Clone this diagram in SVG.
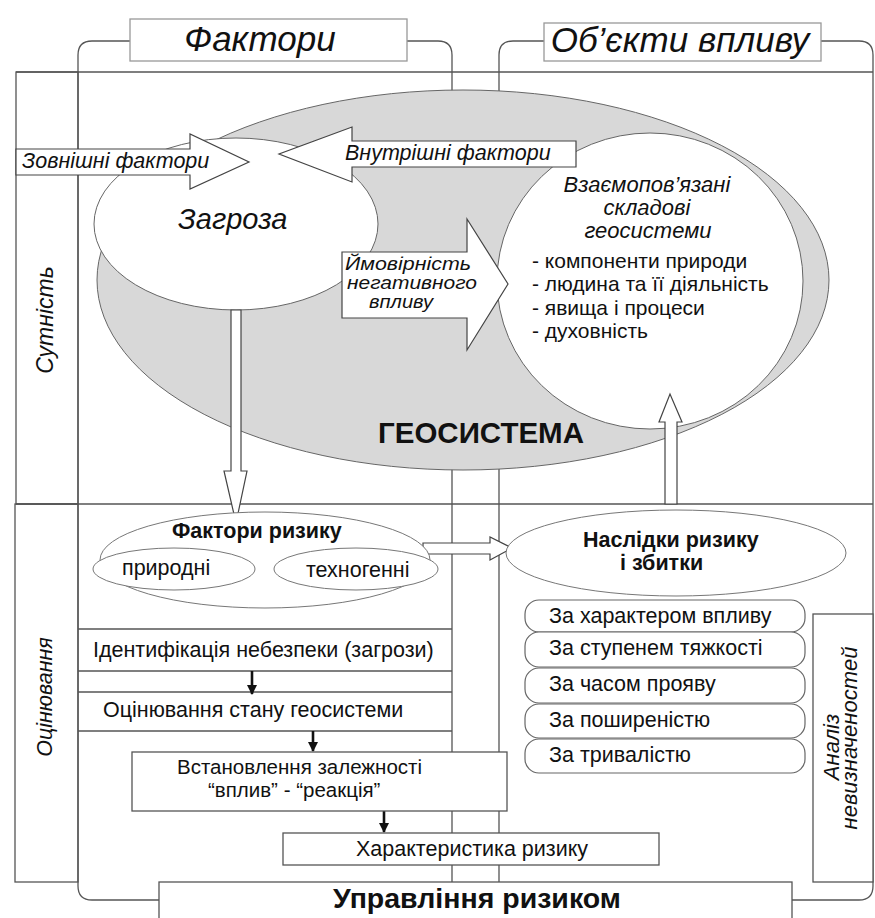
<svg xmlns="http://www.w3.org/2000/svg" width="875" height="918" viewBox="0 0 875 918">
<defs>
<style>
.ln{fill:none;stroke:#555;stroke-width:1.3}
.bx{fill:#fff;stroke:#555;stroke-width:1.3}
.tb{fill:#fff;stroke:#999;stroke-width:1.3}
.ba{fill:#fff;stroke:#444;stroke-width:1.2}
.pill{fill:#fff;stroke:#666;stroke-width:1.2}
.t{font-family:"Liberation Sans",Arial,sans-serif;fill:#111}
.it{font-style:italic}
.b{font-weight:bold}
.k{stroke:#111;stroke-width:2.6;fill:none}
</style>
<marker id="ah" viewBox="0 0 10 10" refX="9" refY="5" markerWidth="4" markerHeight="4" orient="auto" markerUnits="strokeWidth">
<path d="M0,0 L10,5 L0,10 z" fill="#111"/>
</marker>
</defs>
<rect width="875" height="918" fill="#fff"/>

<g id="frame">
<path class="ln" d="M16,72 H873"/>
<rect class="ln" x="16" y="72" width="62" height="432"/>
<path class="ln" d="M16,504 H873"/>
<rect class="ln" x="15" y="504" width="63" height="378"/>
<path class="ln" d="M130,41 H92 Q78,41 78,55 V886 Q78,900 92,900 H159"/>
<path class="ln" d="M407,41 H438 Q452,41 452,55 V882"/>
<path class="ln" d="M544,41 H513 Q499,41 499,55 V882"/>
<path class="ln" d="M821,41 H859 Q873,41 873,55 V886 Q873,900 859,900 H792"/>
<path class="ln" d="M78,629 H452 M78,671 H452 M78,692 H452 M78,731 H452"/>
</g>

<g id="title-factors">
<rect class="tb" x="130" y="19" width="277" height="42"/>
<text class="t it" x="260" y="51" font-size="35" text-anchor="middle">Фактори</text>
</g>
<g id="title-objects">
<rect class="tb" x="544" y="23" width="277" height="38"/>
<text class="t it" x="680" y="52" font-size="35" text-anchor="middle">Об’єкти впливу</text>
</g>

<g id="label-sutnist">
<text class="t it" transform="translate(53,320) rotate(-90)" font-size="23" text-anchor="middle">Сутність</text>
</g>
<g id="label-otsinyuvannya">
<text class="t it" transform="translate(52,697) rotate(-90)" font-size="21.5" text-anchor="middle">Оцінювання</text>
</g>

<g id="geosystem">
<ellipse cx="463" cy="280" rx="366" ry="190" fill="#d8d8d8" stroke="#666" stroke-width="1"/>
<text class="t b" x="378" y="443" font-size="29.5">ГЕОСИСТЕМА</text>
</g>

<g id="zagroza">
<ellipse cx="236" cy="224" rx="142" ry="86" fill="#fff" stroke="#666" stroke-width="1"/>
<text class="t it" x="178" y="229" font-size="29">Загроза</text>
</g>

<g id="components">
<ellipse cx="650" cy="281" rx="153" ry="148" fill="#fff" stroke="#666" stroke-width="1"/>
<text class="t it" font-size="22" text-anchor="middle">
<tspan x="650" y="192">Взаємопов’язані</tspan>
<tspan x="650" y="215">складові</tspan>
<tspan x="648" y="238">геосистеми</tspan>
</text>
<text class="t" font-size="21">
<tspan x="532" y="268">- компоненти природи</tspan>
<tspan x="532" y="291">- людина та її діяльність</tspan>
<tspan x="532" y="315">- явища і процеси</tspan>
<tspan x="532" y="338">- духовність</tspan>
</text>
</g>

<g id="connectors">
<polygon class="ba" points="231,310 241,310 241,471 247,471 236,523 224,471 231,471"/>
<polygon class="ba" points="665,504 665,422 659,422 670,394 682,422 677,422 677,504"/>
<polygon class="ba" points="423,543 490,543 490,537 512,548 490,560 490,554 423,554"/>
<line class="k" x1="252" y1="671" x2="252" y2="694" marker-end="url(#ah)"/>
<line class="k" x1="313" y1="731" x2="313" y2="751" marker-end="url(#ah)"/>
<line class="k" x1="384" y1="811" x2="384" y2="832" marker-end="url(#ah)"/>
</g>

<g id="external-factors">
<polygon class="ba" points="16,149 190,149 190,134 249,162 190,189 190,175 16,175"/>
<text class="t it" x="22" y="168" font-size="21.5">Зовнішні фактори</text>
</g>
<g id="internal-factors">
<polygon class="ba" points="576,141 352,141 352,127 279,154 352,182 352,167 576,167"/>
<text class="t it" x="345" y="160" font-size="21.5">Внутрішні фактори</text>
</g>
<g id="probability">
<polygon class="ba" points="342,252 467,252 467,219 508,284 467,350 467,318 342,318"/>
<text class="t it" font-size="17.5">
<tspan x="345" y="270" textLength="126" lengthAdjust="spacingAndGlyphs">Ймовірність</tspan>
<tspan x="347" y="289" textLength="130" lengthAdjust="spacingAndGlyphs">негативного</tspan>
<tspan x="369" y="308" textLength="64" lengthAdjust="spacingAndGlyphs">впливу</tspan>
</text>
</g>

<g id="risk-factors">
<ellipse cx="265" cy="560" rx="165" ry="48" fill="#fff" stroke="#777" stroke-width="1"/>
<text class="t b" x="172" y="538" font-size="21.5">Фактори ризику</text>
<ellipse cx="174" cy="569" rx="81" ry="21" fill="#fff" stroke="#777" stroke-width="1"/>
<text class="t" x="122" y="575" font-size="21.5">природні</text>
<ellipse cx="356" cy="569" rx="82" ry="21" fill="#fff" stroke="#777" stroke-width="1"/>
<text class="t" x="306" y="577" font-size="21.5">техногенні</text>
</g>

<g id="consequences">
<ellipse cx="676" cy="553" rx="170" ry="43" fill="#fff" stroke="#777" stroke-width="1"/>
<text class="t b" font-size="21.5">
<tspan x="583" y="547">Наслідки ризику</tspan>
<tspan x="620" y="570">і збитки</tspan>
</text>
</g>

<g id="criteria">
<rect class="pill" x="525" y="600" width="280" height="32" rx="14"/>
<text class="t" x="549" y="623" font-size="21.5">За характером впливу</text>
<rect class="pill" x="525" y="632" width="280" height="35" rx="14"/>
<text class="t" x="549" y="655" font-size="21.5">За ступенем тяжкості</text>
<rect class="pill" x="525" y="668" width="280" height="35" rx="14"/>
<text class="t" x="549" y="691" font-size="21.5">За часом прояву</text>
<rect class="pill" x="525" y="704" width="280" height="34" rx="14"/>
<text class="t" x="549" y="727" font-size="21.5">За поширеністю</text>
<rect class="pill" x="525" y="739" width="280" height="34" rx="14"/>
<text class="t" x="549" y="762" font-size="21.5">За тривалістю</text>
</g>

<g id="uncertainty">
<rect class="bx" x="813" y="614" width="60" height="268"/>
<text class="t it" transform="translate(839,747) rotate(-90)" font-size="22" text-anchor="middle">Аналіз</text>
<text class="t it" transform="translate(857,738) rotate(-90)" font-size="22" text-anchor="middle">невизначеностей</text>
</g>

<g id="identification">
<text class="t" x="93" y="657" font-size="21.5">Ідентифікація небезпеки (загрози)</text>
</g>
<g id="assessment">
<text class="t" x="103" y="717" font-size="21.5">Оцінювання стану геосистеми</text>
</g>
<g id="dose-response">
<rect class="bx" x="132" y="752" width="375" height="59"/>
<text class="t" font-size="20.5">
<tspan x="177" y="774">Встановлення залежності</tspan>
<tspan x="208" y="797">“вплив” - “реакція”</tspan>
</text>
</g>
<g id="risk-characteristic">
<rect class="bx" x="283" y="833" width="376" height="32"/>
<text class="t" x="356" y="856" font-size="21.5">Характеристика ризику</text>
</g>
<g id="risk-management">
<rect class="bx" x="159" y="882" width="633" height="40"/>
<text class="t b" x="333" y="908" font-size="28.5">Управління ризиком</text>
</g>
</svg>
